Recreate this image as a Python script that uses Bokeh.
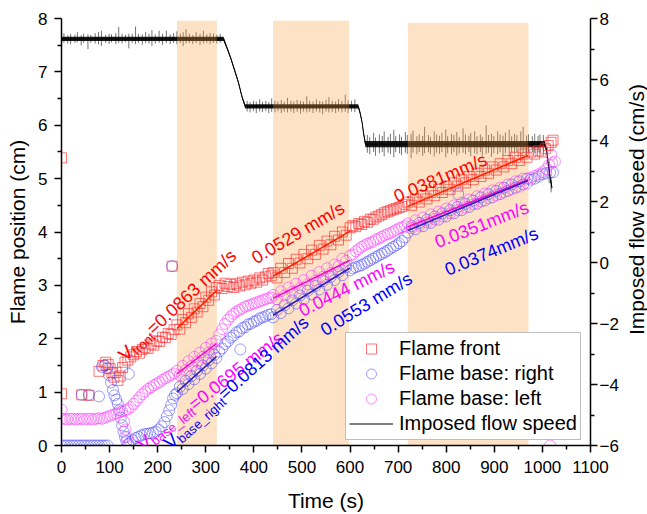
import math
from bokeh.plotting import figure
from bokeh.layouts import row
from bokeh.models import Range1d, LinearAxis, FixedTicker, Label, Legend, LegendItem
from bokeh.embed import file_html
from bokeh.resources import INLINE

FONT = "Liberation Sans"

# ---------------- flame front position (cm) ----------------
front_t = [0, 0, 42, 57, 78, 86, 92, 97, 101, 105, 109, 113, 117, 122, 127, 132, 138, 144, 150, 156,
           162, 168, 174, 180, 186, 192, 198, 204, 210, 216, 222, 228, 230, 234, 240, 246, 252, 258, 264, 270,
           276, 282, 288, 294, 300, 306, 312, 318, 322, 328, 334, 340, 346, 352, 358, 364, 370, 376, 382, 388,
           394, 400, 406, 412, 418, 424, 430, 436, 440, 448, 456, 464, 472, 480, 488, 496, 504, 512, 520, 528,
           536, 544, 552, 560, 568, 576, 584, 592, 600, 606, 612, 618, 624, 630, 636, 642, 648, 654, 660, 666,
           672, 678, 684, 690, 696, 702, 708, 714, 720, 728, 736, 744, 752, 760, 768, 776, 784, 792, 800, 808,
           816, 824, 832, 840, 848, 856, 864, 872, 880, 888, 896, 904, 912, 920, 928, 936, 944, 952, 960, 968,
           976, 984, 992, 1000, 1006, 1012, 1018, 1022]
front_pos = [5.39, 0.97, 0.95, 0.94, 1.39, 1.50, 1.56, 1.52, 1.44, 1.36, 1.28, 1.37, 1.22, 1.30, 1.46, 1.56, 1.60, 1.66, 1.70, 1.76,
             1.73, 1.80, 1.84, 1.82, 1.90, 1.88, 1.96, 1.95, 2.03, 2.02, 2.10, 2.08, 3.36, 2.17, 2.26, 2.18, 2.36, 2.30, 2.47, 2.40,
             2.56, 2.50, 2.66, 2.60, 2.78, 2.72, 2.88, 2.82, 2.96, 3.00, 2.94, 3.04, 2.98, 3.02, 2.96, 3.03, 2.99, 3.06, 3.01, 3.08,
             3.04, 3.10, 3.06, 3.14, 3.10, 3.16, 3.22, 3.18, 3.24, 3.14, 3.32, 3.24, 3.41, 3.32, 3.49, 3.42, 3.58, 3.50, 3.66, 3.58,
             3.75, 3.68, 3.83, 3.76, 3.92, 3.85, 4.00, 3.94, 4.08, 4.12, 4.10, 4.16, 4.14, 4.20, 4.18, 4.24, 4.24, 4.28, 4.30, 4.33,
             4.36, 4.38, 4.40, 4.42, 4.44, 4.46, 4.48, 4.52, 4.56, 4.50, 4.62, 4.56, 4.68, 4.62, 4.74, 4.68, 4.80, 4.74, 4.86, 4.80,
             4.92, 4.86, 4.98, 4.92, 5.04, 4.98, 5.10, 5.04, 5.16, 5.10, 5.22, 5.16, 5.28, 5.22, 5.34, 5.28, 5.40, 5.34, 5.46, 5.40,
             5.50, 5.46, 5.52, 5.50, 5.56, 5.62, 5.68, 5.72]

# ---------------- flame base, right side (cm) ----------------
right_t = [0, 6, 12, 18, 24, 30, 36, 42, 48, 54, 60, 66, 72, 78, 84, 90, 96, 42, 57, 78,
           84, 90, 95, 99, 103, 107, 110, 114, 117, 120, 123, 126, 129, 132, 135, 139, 140, 143, 148, 154,
           160, 166, 172, 178, 184, 190, 196, 202, 208, 214, 219, 224, 228, 230, 232, 236, 240, 246, 252, 258,
           264, 270, 276, 282, 288, 294, 300, 306, 312, 318, 322, 328, 334, 340, 346, 352, 358, 364, 370, 372,
           376, 382, 388, 394, 400, 406, 412, 418, 424, 430, 436, 440, 448, 456, 464, 472, 480, 488, 496, 504,
           512, 520, 528, 536, 544, 552, 560, 568, 576, 584, 592, 600, 606, 612, 618, 624, 630, 636, 642, 648,
           654, 660, 666, 672, 678, 684, 690, 696, 702, 708, 714, 720, 728, 736, 744, 752, 760, 768, 776, 784,
           792, 800, 808, 816, 824, 825, 832, 840, 848, 856, 864, 872, 880, 888, 896, 904, 912, 920, 928, 936,
           944, 952, 960, 968, 976, 984, 992, 1000, 1008, 1016, 1022]
right_pos = [0, 0, 0, 0, 0, 0, 0, 0, 0, 0, 0, 0, 0, 0, 0, 0, 0, 0.95, 0.95, 0.92,
             1.47, 1.50, 1.45, 1.32, 1.18, 1.04, 0.94, 0.86, 0.78, 0.66, 0.52, 0.38, 0.26, 0.16, 0.08, 0.03, 1.34, 0.06, 0.10, 0.14,
             0.16, 0.19, 0.21, 0.22, 0.23, 0.24, 0.26, 0.30, 0.36, 0.44, 0.55, 0.66, 0.76, 3.36, 0.88, 0.95, 0.98, 1.10, 1.06, 1.21,
             1.15, 1.30, 1.24, 1.40, 1.34, 1.50, 1.44, 1.60, 1.54, 1.70, 1.64, 1.76, 1.82, 1.90, 1.95, 2.02, 2.06, 2.12, 2.14, 1.80,
             2.20, 2.22, 2.27, 2.28, 2.32, 2.34, 2.38, 2.40, 2.42, 2.45, 2.46, 2.40, 2.54, 2.48, 2.63, 2.57, 2.72, 2.66, 2.81, 2.74,
             2.90, 2.83, 2.99, 2.92, 3.08, 3.01, 3.16, 3.10, 3.25, 3.19, 3.34, 3.28, 3.32, 3.34, 3.36, 3.38, 3.41, 3.44, 3.47, 3.50,
             3.53, 3.56, 3.59, 3.62, 3.65, 3.69, 3.72, 3.75, 3.79, 3.83, 3.90, 3.99, 4.11, 4.05, 4.17, 4.11, 4.23, 4.17, 4.29, 4.23,
             4.35, 4.29, 4.41, 4.35, 4.47, 4.71, 4.41, 4.53, 4.47, 4.59, 4.53, 4.65, 4.59, 4.71, 4.65, 4.77, 4.71, 4.83, 4.77, 4.89,
             4.83, 4.95, 4.89, 5.00, 4.98, 5.00, 5.04, 5.08, 5.10, 5.12, 5.12]

# ---------------- flame base, left side (cm) ----------------
left_t = [0, 0, 6, 12, 18, 24, 30, 36, 42, 48, 54, 60, 66, 72, 78, 84, 90, 96, 102, 108,
          114, 120, 126, 130, 133, 136, 139, 132, 138, 144, 150, 156, 162, 168, 174, 180, 186, 192, 198, 204,
          210, 216, 222, 228, 234, 240, 246, 252, 258, 264, 270, 276, 282, 288, 294, 300, 306, 312, 318, 322,
          328, 334, 340, 346, 352, 358, 364, 370, 376, 382, 388, 394, 400, 406, 412, 418, 424, 430, 436, 440,
          448, 456, 464, 472, 480, 488, 496, 504, 512, 520, 528, 536, 544, 552, 560, 568, 576, 584, 592, 600,
          606, 612, 618, 624, 630, 636, 642, 648, 654, 660, 666, 672, 678, 684, 690, 696, 702, 708, 714, 720,
          728, 736, 744, 752, 760, 768, 776, 784, 792, 800, 808, 816, 824, 832, 840, 848, 856, 864, 872, 880,
          888, 896, 904, 912, 920, 928, 936, 944, 952, 960, 968, 976, 984, 992, 1000, 1008, 1014, 1016, 1018, 1020,
          1026]
left_pos = [0.67, 0.50, 0.50, 0.49, 0.50, 0.50, 0.49, 0.50, 0.50, 0.49, 0.50, 0.50, 0.49, 0.50, 0.51, 0.50, 0.52, 0.54, 0.56, 0.58,
            0.60, 0.62, 0.64, 0.45, 0.30, 0.16, 0.02, 0.66, 0.68, 0.72, 0.78, 0.84, 0.90, 0.96, 1.01, 1.06, 1.09, 1.13, 1.16, 1.19,
            1.23, 1.26, 1.29, 1.32, 1.35, 1.40, 1.32, 1.49, 1.41, 1.58, 1.49, 1.66, 1.57, 1.74, 1.66, 1.83, 1.74, 1.91, 1.82, 1.96,
            2.08, 2.18, 2.28, 2.36, 2.42, 2.47, 2.51, 2.54, 2.57, 2.60, 2.62, 2.64, 2.66, 2.68, 2.70, 2.72, 2.74, 2.76, 2.77, 2.82,
            2.74, 2.89, 2.81, 2.96, 2.88, 3.03, 2.95, 3.10, 3.02, 3.18, 3.09, 3.25, 3.16, 3.32, 3.23, 3.39, 3.36, 3.50, 3.46, 3.56,
            3.58, 3.64, 3.68, 3.72, 3.75, 3.78, 3.80, 3.82, 3.86, 3.88, 3.91, 3.94, 3.96, 3.98, 4.01, 4.04, 4.07, 4.09, 4.11, 4.16,
            4.07, 4.22, 4.12, 4.27, 4.18, 4.33, 4.24, 4.38, 4.29, 4.44, 4.35, 4.50, 4.41, 4.55, 4.46, 4.61, 4.52, 4.67, 4.57, 4.72,
            4.63, 4.78, 4.69, 4.83, 4.74, 4.89, 4.80, 4.95, 4.85, 5.00, 4.91, 5.02, 5.05, 5.08, 5.12, 5.18, 5.26, 0.00, 5.45, 5.30,
            5.32]

# ---------------- linear fits over the shaded windows ----------------
fit_start = [240, 440, 720]
fit_end = [322, 600, 970]
front_rate = [0.0863, 0.0529, 0.0381]     # mm/s
front_fit_v0 = [2.19, 3.17, 4.48]
right_rate = [0.0813, 0.0553, 0.0374]
right_fit_v0 = [1.00, 2.44, 4.03]
left_rate = [0.0695, 0.0444, 0.0351]
left_fit_v0 = [1.34, 2.76, 4.10]

# ---------------- shaded windows ----------------
band_start = [240, 440, 720]
band_end = [323, 598, 971]
band_top = [7.96, 7.96, 7.92]

# ---------------- imposed flow speed (cm/s) ----------------
flow_t = [0, 337, 345, 352, 360, 368, 375, 382, 617, 621, 625, 628, 632, 1005, 1009, 1012, 1016, 1020]
flow_v = [7.33, 7.33, 7.00, 6.70, 6.30, 5.90, 5.45, 5.12, 5.12, 4.90, 4.60, 4.25, 3.88, 3.88, 3.65, 3.25, 2.80, 2.45]
flow_core = [0.07, 0.07, 0.05, 0.05, 0.05, 0.05, 0.05, 0.07, 0.07, 0.05, 0.05, 0.05, 0.10, 0.10, 0.08, 0.08, 0.10, 0.10]
# sensor spikes: (time, top, bottom) in cm/s
spikes_high = [(5, 7.52, 7.20), (13, 7.45, 7.18), (19, 7.50, 7.15), (28, 7.47, 7.20), (33, 7.55, 7.22),
               (41, 7.45, 7.12), (46, 7.50, 7.20), (55, 7.48, 7.00), (61, 7.46, 7.20), (70, 7.52, 7.18),
               (77, 7.56, 7.15), (83, 7.60, 7.10), (92, 7.46, 7.20), (99, 7.50, 7.17), (104, 7.48, 7.22),
               (113, 7.52, 7.16), (119, 7.72, 7.20), (126, 7.50, 7.18), (133, 7.47, 7.22), (140, 7.50, 7.02),
               (147, 7.50, 7.20), (154, 7.74, 7.16), (160, 7.50, 7.20), (168, 7.48, 7.14), (175, 7.56, 7.20),
               (182, 7.50, 7.18), (188, 7.62, 7.10), (195, 7.48, 7.18), (203, 7.60, 7.20), (210, 7.50, 7.14),
               (218, 7.60, 7.20), (226, 7.48, 7.16), (233, 7.52, 7.20), (240, 7.58, 7.16), (247, 7.50, 7.20),
               (253, 7.55, 7.10), (259, 7.65, 7.18), (266, 7.50, 7.20), (273, 7.46, 7.16), (280, 7.55, 7.20),
               (288, 7.50, 7.14), (295, 7.60, 7.18), (302, 7.48, 7.20), (309, 7.52, 7.16), (316, 7.50, 7.20),
               (323, 7.47, 7.18), (330, 7.50, 7.20)]
spikes_mid = [(386, 5.30, 4.95), (392, 5.26, 4.92), (399, 5.30, 4.96), (405, 5.28, 4.90), (412, 5.35, 4.95),
              (418, 5.27, 4.93), (425, 5.30, 4.96), (431, 5.26, 4.90), (437, 5.38, 4.94), (444, 5.30, 4.92),
              (450, 5.28, 4.96), (457, 5.33, 4.90), (463, 5.27, 4.94), (470, 5.40, 4.92), (477, 5.30, 4.95),
              (483, 5.28, 4.90), (490, 5.33, 4.94), (497, 5.30, 4.88), (503, 5.28, 4.95), (510, 5.45, 4.92),
              (516, 5.30, 4.94), (523, 5.28, 4.90), (530, 5.35, 4.95), (537, 5.30, 4.92), (543, 5.28, 4.86),
              (550, 5.33, 4.95), (556, 5.42, 4.92), (563, 5.30, 4.94), (570, 5.28, 4.90), (576, 5.35, 4.95),
              (583, 5.30, 4.92), (590, 5.50, 4.94), (596, 5.32, 4.90), (603, 5.30, 4.95), (610, 5.35, 4.93)]
spikes_low = [(636, 4.18, 3.60), (641, 4.12, 3.55), (649, 4.25, 3.62), (653, 4.10, 3.50), (661, 4.20, 3.58),
              (667, 4.15, 3.62), (671, 4.30, 3.48), (679, 4.12, 3.60), (684, 4.22, 3.55), (691, 4.35, 3.45),
              (695, 4.14, 3.62), (703, 4.20, 3.58), (707, 4.12, 3.52), (715, 4.28, 3.60), (719, 4.18, 3.56),
              (727, 4.22, 3.42), (731, 4.32, 3.60), (739, 4.14, 3.55), (744, 4.20, 3.62), (751, 4.15, 3.50),
              (755, 4.45, 3.58), (763, 4.18, 3.62), (767, 4.12, 3.55), (775, 4.30, 3.48), (780, 4.20, 3.60),
              (786, 4.16, 3.56), (791, 4.25, 3.62), (799, 4.36, 3.45), (803, 4.14, 3.58), (811, 4.22, 3.55),
              (816, 4.18, 3.62), (822, 4.28, 3.50), (827, 4.12, 3.58), (835, 4.40, 3.60), (840, 4.20, 3.55),
              (847, 4.16, 3.62), (851, 4.25, 3.48), (859, 4.30, 3.58), (864, 4.14, 3.55), (871, 4.20, 3.62),
              (875, 4.12, 3.50), (883, 4.50, 3.56), (888, 4.18, 3.60), (894, 4.22, 3.46), (899, 4.15, 3.58),
              (907, 4.30, 3.55), (912, 4.20, 3.62), (918, 4.16, 3.50), (923, 4.26, 3.58), (931, 4.35, 3.45),
              (936, 4.14, 3.60), (942, 4.22, 3.56), (947, 4.18, 3.62), (955, 4.30, 3.55), (960, 4.45, 3.58),
              (967, 4.16, 3.50), (971, 4.20, 3.60), (979, 4.14, 3.62), (984, 4.22, 3.58), (991, 4.16, 3.60),
              (995, 4.20, 3.62), (1002, 4.18, 3.60), (1014, 3.30, 2.60), (1018, 2.80, 2.30)]

W_MAIN, W_SIDE, H = 621, 26, 514

p = figure(width=W_MAIN, height=H, x_range=Range1d(0, 1100), y_range=Range1d(0, 8),
           output_backend="svg", toolbar_location=None)
p.min_border_left = 61
p.min_border_right = 30
p.min_border_top = 18
p.min_border_bottom = 69
p.outline_line_color = None
p.grid.visible = False
p.background_fill_color = "white"
p.border_fill_color = "white"
p.extra_y_ranges = {"flow": Range1d(-6, 8)}

# flow speed trace: spikes, dense noise core, centre line
spikes = spikes_high + spikes_mid + spikes_low
sp_t = [s[0] for s in spikes]
sp_top = [s[1] for s in spikes]
sp_bot = [s[2] for s in spikes]
p.segment(x0=sp_t, y0=sp_bot, x1=sp_t, y1=sp_top, line_color="black", line_alpha=0.55,
          line_width=1, y_range_name="flow")
fl_lo = [v - s for v, s in zip(flow_v, flow_core)]
fl_hi = [v + s for v, s in zip(flow_v, flow_core)]
p.varea(x=flow_t, y1=fl_lo, y2=fl_hi, fill_color="black", fill_alpha=0.9, y_range_name="flow")
r_flow = p.line(flow_t, flow_v, line_color="black", line_width=1, y_range_name="flow")

# shaded windows
p.quad(left=band_start, right=band_end, bottom=[0] * len(band_start), top=band_top,
       fill_color="#f89e3e", fill_alpha=0.3, line_color=None)

r_front = p.scatter(front_t, front_pos, marker="square", size=10, fill_color=None,
                    line_color="#ff2a2a", line_alpha=0.65, line_width=1)
r_right = p.scatter(right_t, right_pos, marker="circle", size=11, fill_color=None,
                    line_color="#3c3cff", line_alpha=0.5, line_width=1)
r_left = p.scatter(left_t, left_pos, marker="circle", size=11, fill_color=None,
                   line_color="#ff30ff", line_alpha=0.55, line_width=1)


def draw_fits(v0s, rates, color):
    for t0, t1, v0, r in zip(fit_start, fit_end, v0s, rates):
        p.line([t0, t1], [v0, v0 + r / 10.0 * (t1 - t0)], line_color=color, line_width=1.6)


draw_fits(front_fit_v0, front_rate, "#ff2200")
draw_fits(left_fit_v0, left_rate, "#f010c8")
draw_fits(right_fit_v0, right_rate, "#3020c0")

# axes
p.xaxis[0].ticker = FixedTicker(ticks=list(range(0, 1101, 100)), minor_ticks=list(range(50, 1100, 100)))
p.yaxis[0].ticker = FixedTicker(ticks=list(range(0, 9)), minor_ticks=[k + 0.5 for k in range(8)])
right_axis = LinearAxis(y_range_name="flow",
                        ticker=FixedTicker(ticks=list(range(-6, 9, 2)), minor_ticks=list(range(-5, 8, 2))))
p.add_layout(right_axis, "right")

p.xaxis[0].axis_label = "Time (s)"
p.yaxis[0].axis_label = "Flame position (cm)"
for ax in (p.xaxis[0], p.yaxis[0], right_axis):
    ax.axis_line_width = 1.5
    ax.axis_line_color = "black"
    ax.major_tick_line_width = 1.5
    ax.minor_tick_line_width = 1.5
    ax.major_tick_line_color = "black"
    ax.minor_tick_line_color = "black"
    ax.major_tick_out = 7
    ax.major_tick_in = 0
    ax.minor_tick_out = 4
    ax.minor_tick_in = 0
    ax.major_label_text_font = FONT
    ax.major_label_text_font_size = "17px"
    ax.major_label_text_color = "black"
    ax.axis_label_text_font = FONT
    ax.axis_label_text_font_size = "21px"
    ax.axis_label_text_font_style = "normal"
    ax.axis_label_text_color = "black"
p.xaxis[0].major_label_standoff = 8
p.xaxis[0].axis_label_standoff = 13
p.yaxis[0].major_label_standoff = 7
p.yaxis[0].axis_label_standoff = 6
right_axis.major_label_standoff = 2

# rate annotations, written as runs of text along a rotated baseline
CHAR_W = {" ": 278, ".": 278, "/": 278, "=": 584, "_": 556, "V": 667, "a": 556, "b": 556, "e": 556,
          "f": 278, "g": 556, "h": 556, "i": 222, "l": 222, "m": 833, "n": 556, "o": 556, "r": 333,
          "s": 500, "t": 278}


def text_width(s, size):
    return sum(CHAR_W.get(c, 556) for c in s) / 1000.0 * size


def rotated_text(x, y, angle, runs, color):
    a = math.radians(angle)
    d = 0.0
    for txt, size, drop in runs:
        ox = d * math.cos(a) + drop * math.sin(a)
        oy = d * math.sin(a) - drop * math.cos(a)
        p.add_layout(Label(x=x, y=y, x_offset=ox, y_offset=oy, text=txt, angle=angle, angle_units="deg",
                           text_font=FONT, text_font_size=f"{size}px", text_color=color,
                           text_align="left", text_baseline="alphabetic"))
        d += text_width(txt, size)


RED, MAG, BLUE = "#ff0000", "#ff00ff", "#0000ff"
rotated_text(124.5, 1.65, 43, [("V", 19, 0), ("front", 13, 5), (f"={front_rate[0]} mm/s", 18, 0)], RED)
rotated_text(162, -0.02, 38, [("V", 19, 0), ("base_left", 13, 5), (f"={left_rate[0]} mm/s", 18, 0)], MAG)
rotated_text(218, 0.0, 42, [("V", 19, 0), ("base_right", 13, 5), (f"={right_rate[0]} mm/s", 18, 0)], BLUE)
rotated_text(398.5, 3.49, 30.4, [(f"{front_rate[1]} mm/s", 18, 0)], RED)
rotated_text(496, 2.51, 26.2, [(f"{left_rate[1]} mm/s", 18, 0)], MAG)
rotated_text(541.7, 2.14, 31.5, [(f"{right_rate[1]} mm/s", 18, 0)], BLUE)
rotated_text(693, 4.65, 22.9, [(f"{front_rate[2]}mm/s", 18, 0)], RED)
rotated_text(778, 3.80, 21.3, [(f"{left_rate[2]}mm/s", 18, 0)], MAG)
rotated_text(799, 3.28, 22.5, [(f"{right_rate[2]}mm/s", 18, 0)], BLUE)

legend = Legend(items=[LegendItem(label="Flame front", renderers=[r_front]),
                       LegendItem(label="Flame base: right", renderers=[r_right]),
                       LegendItem(label="Flame base: left", renderers=[r_left]),
                       LegendItem(label="Imposed flow speed", renderers=[r_flow])],
                location=(284, 5))
legend.label_text_font = FONT
legend.label_text_font_size = "20px"
legend.label_text_color = "black"
legend.glyph_width = 44
legend.glyph_height = 25
legend.label_height = 25
legend.spacing = 0
legend.padding = 3
legend.margin = 0
legend.label_standoff = 6
legend.border_line_color = "#808080"
legend.border_line_width = 1
legend.background_fill_color = "white"
legend.background_fill_alpha = 1.0
p.add_layout(legend)

# right-hand title strip, read bottom-to-top like the left title
side = figure(width=W_SIDE, height=H, title=None, x_range=Range1d(0, W_SIDE), y_range=Range1d(0, H),
              output_backend="svg", toolbar_location=None, x_axis_location=None, y_axis_location=None,
              min_border=0, min_border_left=0, min_border_right=0, min_border_top=0, min_border_bottom=0)
side.outline_line_color = None
side.grid.visible = False
side.background_fill_color = "white"
side.border_fill_color = "white"
side.add_layout(Label(x=14.5, y=H - 230, text="Imposed flow speed (cm/s)", angle=90, angle_units="deg",
                      text_font=FONT, text_font_size="21px", text_color="black",
                      text_align="center", text_baseline="middle"))

layout = row(p, side, spacing=0)
open("out.html", "w").write(file_html(layout, INLINE))
